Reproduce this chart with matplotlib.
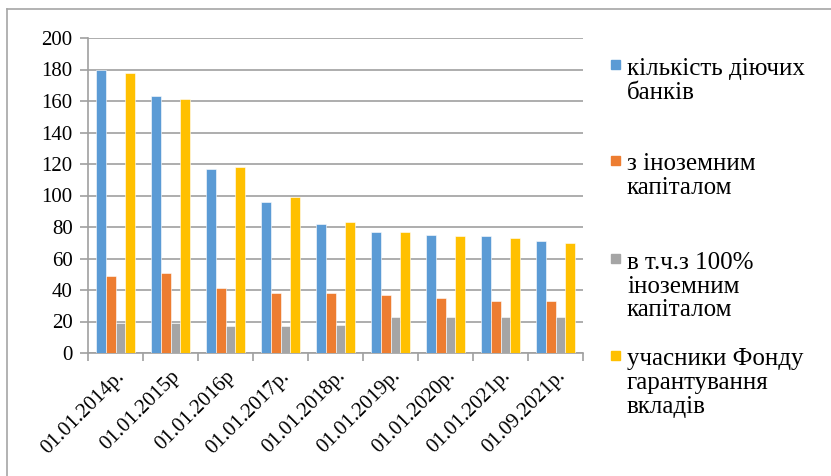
import numpy as np
import matplotlib
matplotlib.use('Agg')
import matplotlib.pyplot as plt
from matplotlib.patches import Rectangle
from matplotlib.lines import Line2D
from matplotlib import font_manager
from matplotlib.font_manager import FontProperties

serif_path = font_manager.findfont('Liberation Serif')
tick_fp = FontProperties(fname=serif_path, size=15)
leg_fp = FontProperties(fname=serif_path, size=18)

dates = ['01.01.2014р.', '01.01.2015р', '01.01.2016р', '01.01.2017р.', '01.01.2018р.',
         '01.01.2019р.', '01.01.2020р.', '01.01.2021р.', '01.09.2021р.']
active = [180, 163, 117, 96, 82, 77, 75, 74, 71]
foreign = [49, 51, 41, 38, 38, 37, 35, 33, 33]
foreign100 = [19, 19, 17, 17, 18, 23, 23, 23, 23]
fund = [178, 161, 118, 99, 83, 77, 74, 73, 70]

labels = ['кількість діючих\nбанків', 'з іноземним\nкапіталом',
          'в т.ч.з 100%\nіноземним\nкапіталом', 'учасники Фонду\nгарантування\nвкладів']
colors = ['#5b9bd5', '#ed7d31', '#a5a5a5', '#ffc000']
series = [active, foreign, foreign100, fund]

fig = plt.figure(figsize=(8.31, 4.76), dpi=100)
ax = fig.add_axes([88/831, 1-353/476, 495/831, 315/476])

x = np.arange(len(dates))
w = 0.18
for i, (vals, c) in enumerate(zip(series, colors)):
    ax.bar(x + (i - 1.5) * w, vals, width=w, color=c, edgecolor='white', linewidth=0.4, zorder=3)

ax.set_xlim(-0.5, len(dates) - 0.5)
ax.set_ylim(0, 200)
ax.set_yticks(range(0, 201, 20))
ax.set_yticklabels([str(v) for v in range(0, 201, 20)], fontproperties=tick_fp)
ax.yaxis.grid(True, color='#a0a0a0', linewidth=1.2, zorder=0)
ax.tick_params(axis='y', length=6, color='#a0a0a0', width=1.2, pad=5)

ax.set_xticks(x)
ax.set_xticklabels(dates, rotation=45, ha='right', rotation_mode='anchor',
                   fontproperties=tick_fp)
ax.tick_params(axis='x', length=0, pad=10)
ax.set_xticks(np.arange(-0.5, len(dates)), minor=True)
ax.tick_params(axis='x', which='minor', length=6, color='#a0a0a0', width=1.2)

for s in ['top', 'right']:
    ax.spines[s].set_visible(False)
for s in ['left', 'bottom']:
    ax.spines[s].set_color('#a0a0a0')
    ax.spines[s].set_linewidth(1.2)

# legend drawn by hand so the square sits beside the first line
leg_y = [0.862, 0.662, 0.455, 0.252]
for lab, c, yy in zip(labels, colors, leg_y):
    fig.patches.append(Rectangle((611/831, yy - 0.008), 9/831, 9/476, color=c,
                                 transform=fig.transFigure))
    fig.text(627/831, yy + 0.016, lab, va='top', ha='left',
             linespacing=1.1, fontproperties=leg_fp)

# outer frame
fig.add_artist(Line2D([7/831, 7/831], [0, 1-9/476], color='#a6a6a6', lw=1.2))
fig.add_artist(Line2D([7/831, 1], [1-9/476, 1-9/476], color='#a6a6a6', lw=1.2))

fig.savefig('out.png', dpi=100)
